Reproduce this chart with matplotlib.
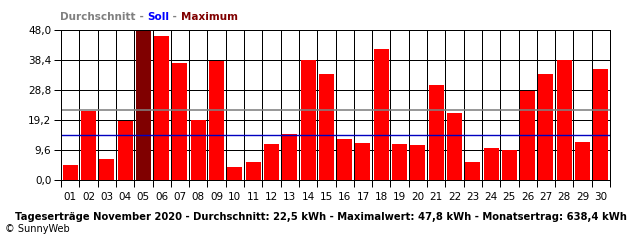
import numpy as np
import matplotlib as mpl
mpl.use('Agg')
import matplotlib.pyplot as plt

days = ['%02d' % d for d in range(1, 31)]
ertrag = [4.8, 22.0, 6.7, 19.0, 47.8, 46.1, 37.5, 19.2, 38.2, 4.2,
          5.8, 11.5, 14.7, 38.4, 33.9, 13.1, 11.8, 41.9, 11.5, 11.2,
          30.4, 21.4, 5.8, 10.2, 9.6, 28.6, 33.9, 38.4, 12.2, 35.5]
durchschnitt = 22.5
soll = 14.3
yticks = [0.0, 9.6, 19.2, 28.8, 38.4, 48.0]
ylabels = ['0,0', '9,6', '19,2', '28,8', '38,4', '48,0']

lw = 0.72  # one pixel at 100 dpi
fig = plt.figure(figsize=(6.4, 2.4), dpi=100)
ax = fig.add_axes([61/640, 60/240, 549/640, 150/240])

x = np.arange(len(days))
imax = int(np.argmax(ertrag))
colors = ['#800000' if i == imax else '#ff0000' for i in range(len(days))]
ax.bar(x, ertrag, width=0.82, color=colors, zorder=2)

ax.axhline(durchschnitt, color='#808080', lw=lw * 1.6, zorder=3)
ax.axhline(soll, color='#0000c0', lw=1.0, zorder=3)

ax.set_xlim(-0.5, len(days) - 0.5)
ax.set_ylim(0, 48)

# grid at column borders and y ticks
for b in np.arange(-0.5, len(days), 1.0):
    ax.axvline(b, color='k', lw=lw, zorder=1)
for t in yticks:
    ax.axhline(t, color='k', lw=lw, zorder=1)

ax.set_yticks(yticks)
ax.set_yticklabels(ylabels, fontsize=7.5)
ax.set_xticks(np.arange(-0.5, len(days), 1.0))
ax.set_xticklabels([])
ax.set_xticks(x, minor=True)
ax.set_xticklabels(days, minor=True, fontsize=7.5)
ax.tick_params(axis='x', which='major', length=5, width=lw, color='k')
ax.tick_params(axis='x', which='minor', length=0, pad=9)
ax.tick_params(axis='y', length=5, width=lw, pad=2)
for s in ax.spines.values():
    s.set_linewidth(lw)
    s.set_zorder(4)

# legend-like header with three colours
t1 = fig.text(60/640, 1 - 17/240, 'Durchschnitt', color='#808080', fontsize=7.5,
              fontweight='bold', va='center')
t2 = ax.annotate(' - ', xycoords=t1, xy=(1, 0), va='bottom', fontsize=7.5,
                 fontweight='bold', color='#808080')
t3 = ax.annotate('Soll', xycoords=t2, xy=(1, 0), va='bottom', fontsize=7.5,
                 fontweight='bold', color='#0000ff')
t4 = ax.annotate(' - ', xycoords=t3, xy=(1, 0), va='bottom', fontsize=7.5,
                 fontweight='bold', color='#808080')
ax.annotate('Maximum', xycoords=t4, xy=(1, 0), va='bottom', fontsize=7.5,
            fontweight='bold', color='#800000')

fig.text(321/640, 1 - 217/240,
         'Tageserträge November 2020 - Durchschnitt: 22,5 kWh - Maximalwert: 47,8 kWh - Monatsertrag: 638,4 kWh',
         ha='center', va='center', fontsize=7.2, fontweight='bold', color='k')
fig.text(5/640, 1 - 229/240, '© SunnyWeb', ha='left', va='center', fontsize=7, color='k')

fig.savefig('out.png', dpi=100)
plt.close()
